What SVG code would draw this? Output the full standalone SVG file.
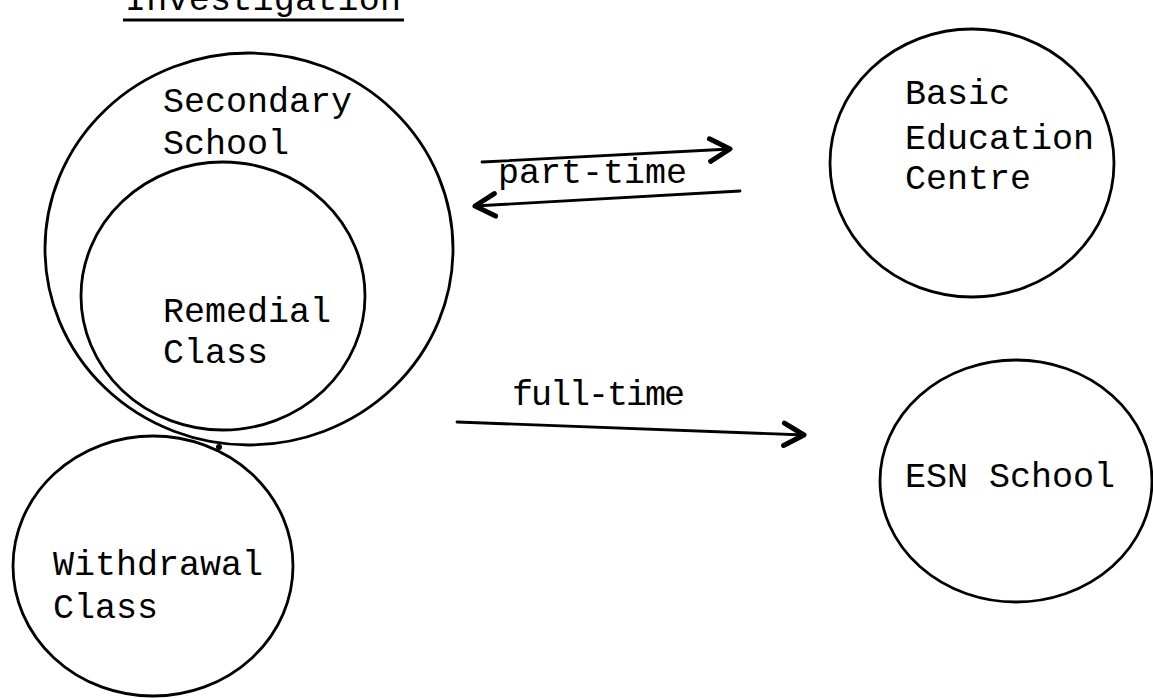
<svg xmlns="http://www.w3.org/2000/svg" width="1153" height="698" viewBox="0 0 1153 698">
<style>
.c{fill:none;stroke:#000;stroke-width:2.8}
.t{font-family:"Liberation Mono",monospace;font-size:35px;fill:#000}
.a{fill:none;stroke:#000;stroke-width:2.8;stroke-linecap:round}
</style>
<defs>
<marker id="ah" markerUnits="userSpaceOnUse" markerWidth="30" markerHeight="30" refX="0" refY="0" viewBox="-20 -12 24 24" orient="auto" overflow="visible">
<path d="M-16,-9 L0,0 L-16,9" fill="none" stroke="#000" stroke-width="4" stroke-linecap="round" stroke-linejoin="round"/>
</marker>
</defs>
<g id="title">
<text class="t" x="125" y="10" textLength="276">Investigation</text>
<line x1="123" y1="20" x2="404" y2="20" stroke="#000" stroke-width="2.8"/>
</g>
<g id="secondary">
<ellipse class="c" cx="249" cy="249" rx="204" ry="196"/>
<text class="t" x="163" y="112">Secondary</text>
<text class="t" x="163" y="154">School</text>
</g>
<g id="remedial">
<ellipse class="c" cx="223" cy="296" rx="142" ry="134"/>
<text class="t" x="163" y="322">Remedial</text>
<text class="t" x="163" y="363">Class</text>
</g>
<g id="withdrawal">
<ellipse class="c" cx="153" cy="566" rx="140" ry="130"/>
<circle cx="219" cy="447" r="3" fill="#000"/>
<text class="t" x="53" y="575">Withdrawal</text>
<text class="t" x="53" y="618">Class</text>
</g>
<g id="basic">
<ellipse class="c" cx="972" cy="163" rx="142" ry="134"/>
<text class="t" x="905" y="104">Basic</text>
<text class="t" x="905" y="149">Education</text>
<text class="t" x="905" y="189">Centre</text>
</g>
<g id="esn">
<ellipse class="c" cx="1016" cy="481" rx="136" ry="121"/>
<text class="t" x="905" y="487">ESN School</text>
</g>
<g id="connectors">
<line class="a" x1="482" y1="162" x2="730" y2="149" marker-end="url(#ah)"/>
<line class="a" x1="740" y1="191" x2="475" y2="206" marker-end="url(#ah)"/>
<text class="t" x="498" y="183">part-time</text>
<line class="a" x1="457" y1="422" x2="804" y2="435" marker-end="url(#ah)"/>
<text class="t" x="512" y="405" textLength="173">full-time</text>
</g>
</svg>
